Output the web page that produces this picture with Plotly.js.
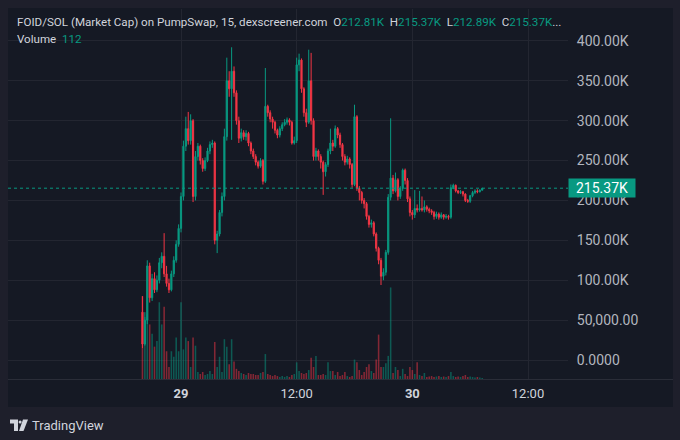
<!DOCTYPE html>
<html>
<head>
<meta charset="utf-8">
<script src="https://cdn.plot.ly/plotly-3.0.1.min.js"></script>
<style>
  html, body { margin: 0; padding: 0; background: #1e1f2b; }
  #chart { width: 680px; height: 440px; }
</style>
</head>
<body>
<div id="chart"></div>
<script>
// ---- data (market cap in thousands, 15-minute candles) ----
const startTime = '2025-05-28T20:00:00Z';
const intervalMinutes = 15;

const openK = [60,20,50,118,78,102,88,100,122,130,108,96,88,108,125,145,165,205,268,290,275,300,205,255,268,250,240,250,262,270,
  272,150,158,185,205,280,350,340,362,335,300,278,285,280,284,272,262,255,248,243,250,224,318,310,302,298,288,282,290,295,
  298,301,298,272,275,370,376,340,310,298,350,300,255,262,255,248,236,245,262,272,268,290,282,270,255,248,252,245,220,305,
  215,210,200,196,180,170,172,158,140,125,105,110,135,204,228,212,226,205,215,238,225,202,185,182,190,188,190,188,192,189,
  187,185,180,183,179,182,179,180,179,216,219,212,210,211,208,200,199,206,210,212,211,212.81];
const highK = [80,60,125,122,108,110,106,128,135,159,118,102,112,130,150,170,210,275,305,311,308,302,262,272,270,253,254,266,274,276,
  274,162,188,210,290,379,362,392,368,338,305,290,288,288,286,274,265,258,250,253,252,366,320,313,305,300,290,293,298,302,
  304,303,300,280,379,384,378,342,315,389,385,303,266,264,258,250,248,265,290,276,294,292,285,272,258,256,254,247,320,307,
  218,212,203,198,182,176,174,160,142,128,115,138,208,303,232,235,228,218,240,240,228,205,188,213,195,212,205,200,194,191,
  189,187,186,185,185,183,183,182,220,221,220,213,213,212,209,202,207,212,214,214,214,215.37];
const lowK = [15,18,45,72,74,84,85,96,115,104,92,84,86,104,122,142,160,200,262,270,270,198,200,250,245,236,237,248,258,266,
  145,134,155,180,200,275,330,276,330,295,272,274,276,275,268,258,252,244,240,241,220,222,305,298,290,284,278,279,287,293,
  295,294,270,270,272,362,335,305,292,296,295,250,250,250,240,207,230,242,258,262,266,278,266,250,244,245,240,216,218,212,
  200,196,190,176,166,166,155,136,120,94,100,106,132,200,208,210,200,202,212,220,198,180,176,178,185,186,186,185,186,184,
  182,176,177,176,177,176,177,176,177,214,210,208,208,205,198,197,197,204,208,209,210,212.89];
const closeK = [20,50,118,78,102,88,100,122,130,108,96,88,108,125,145,165,205,268,290,275,300,205,255,268,250,240,250,262,270,272,
  150,158,185,205,280,350,340,362,335,300,278,285,280,284,272,262,255,248,243,250,224,318,310,302,298,288,282,290,295,298,
  301,298,272,275,370,376,340,310,298,350,300,255,262,255,248,236,245,262,272,268,290,282,270,255,248,252,245,220,305,215,
  210,200,196,180,170,172,158,140,125,105,110,135,204,228,212,226,205,215,238,225,202,185,182,190,188,190,188,192,189,187,
  185,180,183,179,182,179,180,179,216,219,212,210,211,208,200,199,206,210,212,211,212.81,215.37];
const volume = [8960,6700,7000,5900,4900,3500,4100,8300,5900,7800,3000,1300,3000,2400,4500,3000,8300,3200,4500,4100,1300,4500,3600,760,540,760,430,540,860,540,
  4000,1300,2400,760,4300,3500,1600,4300,1900,1100,860,650,540,430,650,540,540,430,430,650,760,2700,540,430,320,430,320,220,320,220,
  320,220,430,540,1800,860,650,540,650,970,2300,1300,2500,430,430,540,430,1800,860,860,430,760,320,430,760,320,220,320,2100,1800,
  970,430,760,1300,1600,860,650,2100,4800,1300,1300,1700,2500,9900,650,1300,970,320,1100,540,320,1300,970,540,1800,430,320,650,220,270,
  320,220,270,320,220,270,220,320,760,320,220,270,220,320,430,220,270,220,160,220,160,112];

const priceTickVals = [0,50,100,150,200,250,300,350,400];
const priceTickText = ['0.0000','50,000.00','100.00K','150.00K','200.00K','250.00K','300.00K','350.00K','400.00K'];
const timeTickVals = ['2025-05-29 00:00','2025-05-29 12:00','2025-05-30 00:00','2025-05-30 12:00'];
const timeTickText = ['<b>29</b>','12:00','<b>30</b>','12:00'];
const lastPrice = 215.37;
const lastPriceText = '215.37K';

// ---- build ----
function fmt(d){
  const p = n => String(n).padStart(2,'0');
  return d.getUTCFullYear()+'-'+p(d.getUTCMonth()+1)+'-'+p(d.getUTCDate())+' '+p(d.getUTCHours())+':'+p(d.getUTCMinutes());
}
const t0 = new Date(startTime).getTime();
const times = closeK.map((_, i) => fmt(new Date(t0 + i*intervalMinutes*60000)));

const UP = '#089981', DOWN = '#f23645';
const volColors = closeK.map((c, i) => c >= openK[i] ? 'rgba(8,153,129,0.5)' : 'rgba(242,54,69,0.5)');

const FONT = 'Roboto, "Noto Sans", sans-serif';

const volTrace = {
  type: 'bar', x: times, y: volume, xaxis: 'x', yaxis: 'y',
  marker: { color: volColors, line: { width: 0 } }, hoverinfo: 'skip'
};
const candleTrace = {
  type: 'candlestick', x: times, open: openK, high: highK, low: lowK, close: closeK,
  xaxis: 'x', yaxis: 'y2',
  increasing: { line: { color: UP, width: 1 }, fillcolor: UP },
  decreasing: { line: { color: DOWN, width: 1 }, fillcolor: DOWN },
  whiskerwidth: 0, hoverinfo: 'skip'
};

// pixel -> paper helpers for decorations
const L = 8, R = 112, T = 9, B = 61, W = 680, H = 440;
const pw = W - L - R, ph = H - T - B;
const px = x => (x - L) / pw;
const py = y => (H - B - y) / ph;
function path(pts){ return 'M' + pts.map(p => px(p[0]) + ',' + py(p[1])).join(' L') + ' Z'; }

const layout = {
  width: W, height: H,
  margin: { l: L, r: R, t: T, b: B, pad: 0 },
  paper_bgcolor: '#1e1f2b', plot_bgcolor: '#151924',
  showlegend: false, bargap: 0.35, boxgap: 0.3,
  font: { family: FONT, color: '#d1d4dc', size: 12 },
  xaxis: {
    type: 'date', range: ['2025-05-28 06:03', '2025-05-30 16:09'],
    rangeslider: { visible: false },
    tickmode: 'array', tickvals: timeTickVals, ticktext: timeTickText,
    showgrid: true, gridcolor: '#232631', gridwidth: 1,
    zeroline: false, showline: false,
    ticks: 'outside', ticklen: 2, tickcolor: 'rgba(0,0,0,0)',
    tickfont: { family: FONT, size: 13, color: '#d1d4dc' }, fixedrange: true
  },
  yaxis: { range: [0, 40000], visible: false, showgrid: false, zeroline: false, fixedrange: true },
  yaxis2: {
    overlaying: 'y', side: 'right', range: [-23.8, 440],
    tickmode: 'array', tickvals: priceTickVals, ticktext: priceTickText,
    showgrid: true, gridcolor: '#232631', gridwidth: 1, zeroline: false, showline: false,
    ticks: 'outside', ticklen: 5, tickcolor: 'rgba(0,0,0,0)',
    tickfont: { family: FONT, size: 14, color: '#b2b5be' }, fixedrange: true
  },
  shapes: [
    { type: 'rect', xref: 'paper', yref: 'paper', x0: px(8), x1: px(673), y0: py(407), y1: py(8),
      fillcolor: '#151924', line: { width: 0 }, layer: 'below' },
    { type: 'line', xref: 'paper', yref: 'paper', x0: px(8), x1: px(673), y0: py(379.5), y1: py(379.5),
      line: { color: '#2a2d38', width: 1 } },
    { type: 'line', xref: 'paper', yref: 'y2', x0: 0, x1: 1, y0: lastPrice, y1: lastPrice,
      line: { color: UP, width: 1, dash: 'dot' } },
    // TradingView logo
    { type: 'path', xref: 'paper', yref: 'paper', path: path([[10,419.5],[18,419.5],[18,431],[14,431],[14,423.5],[10,423.5]]),
      fillcolor: '#d1d4dc', line: { width: 0 } },
    { type: 'circle', xref: 'paper', yref: 'paper', x0: px(18.6), x1: px(21.6), y0: py(423.5), y1: py(420.5),
      fillcolor: '#d1d4dc', line: { width: 0 } },
    { type: 'path', xref: 'paper', yref: 'paper', path: path([[23,419.5],[28,419.5],[23.5,431],[19,431]]),
      fillcolor: '#d1d4dc', line: { width: 0 } }
  ],
  annotations: [
    { xref: 'paper', yref: 'paper', x: px(15), y: py(22), xanchor: 'left', yanchor: 'middle', showarrow: false,
      font: { family: FONT, size: 11.6, color: '#d1d4dc' },
      text: 'FOID/SOL (Market Cap) on PumpSwap, 15, dexscreener.com\u00a0\u00a0O<span style="color:#089981">212.81K</span>\u00a0\u00a0H<span style="color:#089981">215.37K</span>\u00a0\u00a0L<span style="color:#089981">212.89K</span>\u00a0\u00a0C<span style="color:#089981">215.37K</span>...' },
    { xref: 'paper', yref: 'paper', x: px(15), y: py(39), xanchor: 'left', yanchor: 'middle', showarrow: false,
      font: { family: FONT, size: 11.6, color: '#d1d4dc' },
      text: 'Volume\u00a0\u00a0<span style="color:#089981">112</span>' },
    { xref: 'paper', yref: 'y2', x: 1, y: lastPrice, xanchor: 'left', yanchor: 'middle', showarrow: false,
      text: lastPriceText, bgcolor: UP, borderpad: 1, width: 64, height: 16, align: 'center',
      font: { family: FONT, size: 14, color: '#ffffff' } },
    { xref: 'paper', yref: 'paper', x: px(30), y: py(425), xanchor: 'left', yanchor: 'middle', showarrow: false,
      text: 'TradingView', font: { family: FONT, size: 13, color: '#d1d4dc' } }
  ]
};

Plotly.newPlot('chart', [volTrace, candleTrace], layout, { staticPlot: true, displayModeBar: false });
</script>
</body>
</html>
